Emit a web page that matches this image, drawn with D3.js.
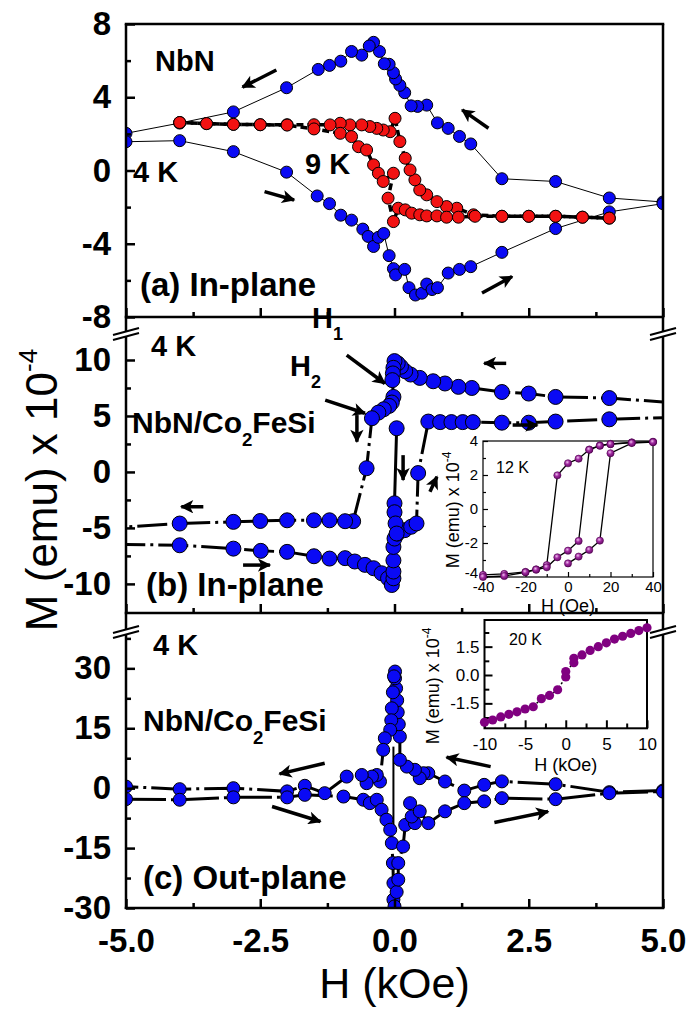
<!DOCTYPE html>
<html>
<head>
<meta charset="utf-8">
<script src="https://cdn.jsdelivr.net/npm/d3@7"></script>
<style>
body{margin:0;background:#fff;}
svg{display:block;font-family:"Liberation Sans",Arial,Helvetica,sans-serif;}
</style>
</head>
<body>
<svg id="chart" width="692" height="1010"></svg>
<script>
// ---- data : [H (kOe), M (emu x 1e-4)] ----
// (a) NbN, in-plane
var a4Down = [[5.0,-1.72],[4.0,-1.5],[3.0,-0.6],[2.0,-0.45],[1.42,1.45],[1.21,1.86],[1.0,2.3],[0.8,2.6],[0.6,3.57],[0.43,3.5],[0.31,3.53],[0.19,4.25],[0.1,4.65],[0.02,5.0],[-0.02,5.34],[-0.1,5.8],[-0.19,5.83],[-0.28,6.5],[-0.39,7.0],[-0.47,6.8],[-0.61,6.3],[-0.8,6.5],[-1.0,5.97],[-1.21,5.74],[-1.42,5.52],[-2.01,4.52],[-3.0,3.2],[-4.0,2.59],[-5.0,2.03]];
var a4Up = [[-5.0,1.57],[-4.0,1.63],[-3.0,1.03],[-2.01,-0.09],[-1.44,-1.39],[-1.21,-1.81],[-1.0,-2.44],[-0.8,-2.71],[-0.59,-3.2],[-0.49,-3.6],[-0.39,-4.15],[-0.3,-3.65],[-0.2,-3.44],[-0.1,-4.65],[-0.02,-5.36],[0.02,-5.7],[0.19,-5.4],[0.27,-6.4],[0.39,-6.8],[0.51,-6.7],[0.6,-6.2],[0.7,-6.5],[0.8,-6.4],[1.0,-5.6],[1.21,-5.4],[1.42,-5.25],[2.0,-4.47],[3.0,-3.17],[4.0,-2.26],[5.0,-1.81]];
var a9Down = [[4.0,-2.6],[3.5,-2.55],[3.0,-2.5],[2.5,-2.5],[2.0,-2.5],[1.47,-2.42],[1.16,-2.06],[0.97,-1.97],[0.79,-1.7],[0.6,-1.33],[0.47,-1.06],[0.38,-0.51],[0.29,0.03],[0.2,0.67],[0.1,1.58],[0.01,2.85],[-0.08,2.12],[-0.21,2.21],[-0.33,2.3],[-0.46,2.4],[-0.61,2.49],[-0.83,2.49],[-1.01,2.58],[-1.2,2.49],[-1.5,2.5],[-2.0,2.5],[-2.5,2.5],[-3.0,2.52],[-3.5,2.56],[-4.0,2.62]];
var a9Up = [[-4.0,2.62],[-3.5,2.56],[-3.0,2.52],[-2.5,2.5],[-2.0,2.48],[-1.5,2.27],[-1.01,2.03],[-0.8,1.85],[-0.67,1.3],[-0.52,1.12],[-0.39,0.31],[-0.3,-0.15],[-0.21,-0.6],[-0.02,-0.15],[-0.12,-1.51],[-0.02,-2.79],[0.07,-2.06],[0.2,-2.15],[0.32,-2.33],[0.47,-2.42],[0.6,-2.48],[0.79,-2.48],[0.97,-2.55],[1.19,-2.55],[1.5,-2.5],[2.0,-2.5],[2.5,-2.5],[3.0,-2.5],[3.5,-2.55],[4.0,-2.6]];

// (b) NbN/Co2FeSi, in-plane, 4 K
var bDown = [[6.0,5.9],[4.0,6.6],[3.0,6.7],[2.5,7.0],[2.0,7.14],[1.44,7.5],[1.19,7.6],[0.94,7.9],[0.72,8.1],[0.47,8.4],[0.3,8.7],[0.2,9.0],[0.12,9.4],[0.06,9.7],[0.0,9.9],[-0.02,9.3],[-0.03,8.8],[-0.04,8.2],[-0.02,6.7],[-0.05,6.2],[-0.1,5.9],[-0.2,5.6],[-0.3,5.3],[-0.42,4.8],[-0.52,0.33],[-0.77,-4.4],[-0.92,-4.4],[-1.21,-4.32],[-1.5,-4.32],[-2.0,-4.32],[-2.5,-4.38],[-3.0,-4.46],[-4.0,-4.61],[-6.0,-5.2]];
var bUp = [[-6.0,-6.4],[-4.0,-6.55],[-3.0,-6.85],[-2.49,-7.05],[-2.0,-7.14],[-1.5,-7.53],[-1.21,-7.74],[-0.92,-7.7],[-0.74,-8.0],[-0.55,-8.3],[-0.39,-8.6],[-0.24,-9.05],[-0.12,-9.5],[-0.05,-10.1],[-0.02,-9.5],[-0.02,-8.9],[-0.02,-7.9],[-0.02,-6.7],[0.0,-5.95],[0.06,-5.5],[0.19,-5.2],[0.31,-4.9],[0.41,-4.6],[0.44,-0.1],[0.63,4.5],[0.85,4.45],[1.06,4.45],[1.27,4.45],[1.46,4.45],[2.0,4.4],[2.5,4.4],[3.0,4.5],[4.0,4.7],[6.0,5.0]];
var bJump = [[0.04,3.9],[0.0,-2.8],[0.0,-3.6],[0.02,-4.6],[0.04,-5.5]];

// (c) NbN/Co2FeSi, out-of-plane, 4 K
var cDown = [[5.0,-0.6],[4.0,-1.0],[3.0,1.0],[2.0,1.7],[1.67,0.83],[1.3,-0.6],[0.94,1.67],[0.63,3.75],[0.54,3.75],[0.47,2.5],[0.38,4.6],[0.23,5.4],[0.1,7.1],[0.1,12.9],[0.08,16],[0.06,19],[0.05,22],[0.03,25],[0.01,27.5],[0.01,29.2],[-0.01,28],[-0.03,24],[-0.05,20],[-0.06,17],[-0.08,14.6],[-0.18,12.5],[-0.21,9.6],[-0.27,1.67],[-0.33,3.3],[-0.42,2.9],[-0.52,1.25],[-0.61,3.3],[-0.89,2.9],[-1.3,-1.25],[-1.67,0.6],[-2.0,-0.8],[-3.0,0.0],[-4.0,-0.25],[-5.0,0.4]];
var cUp = [[-5.0,-2.75],[-4.0,-2.9],[-3.0,-2.3],[-2.0,-2.3],[-1.67,-1.67],[-0.95,-2.1],[-0.58,-2.9],[-0.46,-3.75],[-0.33,-2.9],[-0.24,-5.4],[-0.15,-7.9],[-0.08,-10.4],[-0.05,-13.75],[-0.03,-18.75],[-0.02,-23.75],[-0.02,-27.9],[0.0,-29.6],[0.04,-26],[0.07,-22.9],[0.07,-18.75],[0.16,-14.6],[0.2,-9.2],[0.38,-8.75],[0.32,-7.1],[0.29,-3.75],[0.47,-5.8],[0.63,-8.75],[0.94,-5.8],[1.3,-3.75],[1.67,-3.3],[2.0,-2.5],[3.0,-2.75],[4.0,-1.25],[5.0,-0.85]];
var cJump = [[-0.02,10.4],[-0.02,-11.2]];

// inset (b): 12 K, H in Oe
var ib12Down = [[40,3.95],[30,3.92],[20,3.83],[15,3.74],[10,3.5],[5,2.96],[0,2.69],[-5,1.98],[-10,-3.3],[-15,-3.55],[-20,-3.7],[-30,-3.82],[-40,-3.88]];
var ib12Up = [[-40,-4.0],[-30,-3.94],[-20,-3.72],[-15,-3.57],[-10,-3.43],[-5,-2.84],[0,-2.45],[5,-1.88],[10,3.48],[15,3.72],[20,3.81],[30,3.9],[40,3.95]];
var ib12Virgin = [[0,-3.2],[5,-2.8],[10,-2.41],[15,-1.86],[20,3.28],[30,3.88],[40,3.93]];
// inset (c): 20 K, H in kOe
var ic20 = [[-10,-2.5],[-9,-2.38],[-8,-2.22],[-7,-2.08],[-6,-1.95],[-5,-1.8],[-4,-1.68],[-3,-1.25],[-2,-1.08],[-1,-0.78],[0,-0.1],[0,0.18],[1,0.65],[1,0.88],[2,1.06],[3,1.3],[4,1.5],[5,1.7],[6,1.9],[7,2.05],[8,2.2],[9,2.35],[10,2.5]];

// arrows [H0, M0, H1, M1]
var arrowsA = [[-2.2,5.49,-2.83,4.55],[1.75,2.31,1.26,3.31],[-2.42,-1.15,-1.87,-1.61],[1.63,-6.69,2.19,-5.79]];
var arrowsB = [[-0.89,10.44,-0.18,7.9],[-1.29,6.42,-0.55,5.24],[-0.70,5.08,-0.70,2.7],[0.16,1.5,0.16,-0.72],[0.66,-1.77,0.79,-0.43],[2.08,9.7,1.67,9.7],[2.2,4.19,2.66,4.19],[-3.56,-3.11,-3.97,-3.11],[-2.82,-8.32,-2.32,-8.32]];
var arrowsC = [[-1.3,6.25,-2.14,3.58],[1.79,5.4,0.97,7.75],[-2.28,-4.6,-1.38,-8.35],[1.86,-8.6,2.86,-5.85]];

var xTicks = [-5,-2.5,0,2.5,5], xMinor = [-3.75,-1.25,1.25,3.75];

var BLUE = "#0a0af5", RED = "#f21212";

// ---- layout ----
var svg = d3.select("#chart");
var defs = svg.append("defs");
var X0 = 126, X1 = 663;
var x = d3.scaleLinear().domain([-5,5]).range([X0,X1]);

defs.append("marker").attr("id","ah").attr("viewBox","0 0 10 10")
	.attr("refX",9).attr("refY",5).attr("markerWidth",4.6).attr("markerHeight",3.8)
	.attr("orient","auto")
  .append("path").attr("d","M0,0L10,5L0,10L2.5,5Z").attr("fill","#000");

var grad = defs.append("radialGradient").attr("id","ball").attr("cx","40%").attr("cy","35%").attr("r","65%");
grad.append("stop").attr("offset","0%").attr("stop-color","#f0c0f0");
grad.append("stop").attr("offset","45%").attr("stop-color","#a02aa0");
grad.append("stop").attr("offset","100%").attr("stop-color","#6a0a6a");

var panels = [
	{id:"a", y:d3.scaleLinear().domain([-8,8]).range([317,24]), major:[-8,-4,0,4,8], minor:[-6,-2,2,6]},
	{id:"b", y:d3.scaleLinear().domain([-12.6,12.5]).range([613,332]), major:[-10,-5,0,5,10], minor:[-7.5,-2.5,2.5,7.5]},
	{id:"c", y:d3.scaleLinear().domain([-30,39.6]).range([908,630]), major:[-30,-15,0,15,30], minor:[-22.5,-7.5,7.5,22.5,37.5]}
];

panels.forEach(function(p){
	var r = p.y.range();
	defs.append("clipPath").attr("id","clip-"+p.id)
		.append("rect").attr("x",X0).attr("y",r[1]).attr("width",X1-X0).attr("height",r[0]-r[1]);
	p.g = svg.append("g").attr("class","panel-"+p.id);
	p.plot = p.g.append("g").attr("clip-path","url(#clip-"+p.id+")");
	p.line = d3.line().x(function(d){return x(d[0]);}).y(function(d){return p.y(d[1]);});
});

function drawSeries(p, data, o){
	if (o.stroke) p.plot.append("path").datum(data)
		.attr("d", p.line).attr("fill","none")
		.attr("stroke", o.stroke).attr("stroke-width", o.sw)
		.attr("stroke-dasharray", o.dash || null);
	if (o.r) p.plot.append("g").selectAll("circle").data(data).enter().append("circle")
		.attr("cx", function(d){return x(d[0]);})
		.attr("cy", function(d){return p.y(d[1]);})
		.attr("r", o.r).attr("fill", o.fill)
		.attr("stroke","#000").attr("stroke-width",1);
}

// (a)
var pa = panels[0], pb = panels[1], pc = panels[2];
drawSeries(pa, a4Down, {stroke:"#000", sw:1});
drawSeries(pa, a4Up, {stroke:"#000", sw:1});
drawSeries(pa, a4Down, {r:6, fill:BLUE});
drawSeries(pa, a4Up, {r:6, fill:BLUE});
drawSeries(pa, a9Down, {stroke:"#000", sw:3.5, dash:"7,4"});
drawSeries(pa, a9Up, {stroke:"#000", sw:3.5, dash:"7,4"});
drawSeries(pa, a9Down, {r:6, fill:RED});
drawSeries(pa, a9Up, {r:6, fill:RED});
// (b)
var dashDot = "30,5,3,5";
drawSeries(pb, bDown, {stroke:"#000", sw:3, dash:dashDot});
drawSeries(pb, bUp, {stroke:"#000", sw:3, dash:dashDot});
drawSeries(pb, bJump, {stroke:"#000", sw:3});
drawSeries(pb, bDown, {r:7.5, fill:BLUE});
drawSeries(pb, bUp, {r:7.5, fill:BLUE});
drawSeries(pb, bJump, {r:7.5, fill:BLUE});
// (c)
drawSeries(pc, cJump, {stroke:"#000", sw:2});
drawSeries(pc, cDown, {stroke:"#000", sw:3, dash:"40,5,3,5"});
drawSeries(pc, cUp, {stroke:"#000", sw:3, dash:"40,5,3,5"});
drawSeries(pc, cDown, {r:6.5, fill:BLUE});
drawSeries(pc, cUp, {r:6.5, fill:BLUE});

// axes
panels.forEach(function(p){
	var r = p.y.range();
	var ax = p.g.append("g").attr("transform","translate("+X0+",0)")
		.call(d3.axisLeft(p.y).tickValues(p.major).tickSize(-9).tickSizeOuter(0).tickPadding(15)
			.tickFormat(function(d){return String(d);}));
	ax.append("g").call(d3.axisLeft(p.y).tickValues(p.minor).tickSize(-5).tickSizeOuter(0).tickFormat(""));
	var bx = p.g.append("g").attr("transform","translate(0,"+r[0]+")")
		.call(d3.axisBottom(x).tickValues(xTicks).tickSize(-9).tickSizeOuter(0).tickPadding(21)
			.tickFormat(function(d){return p.id === "c" ? d.toFixed(1) : "";}));
	bx.append("g").call(d3.axisBottom(x).tickValues(xMinor).tickSize(-5).tickSizeOuter(0).tickFormat(""));
	[ax, bx].forEach(function(g){
		g.selectAll(".domain").remove();
		g.selectAll("line").attr("stroke","#000").attr("stroke-width",2.5);
		g.selectAll("text").attr("font-size",33).attr("font-weight","bold")
			.attr("font-family","'Liberation Sans',Arial,sans-serif").attr("fill","#000");
	});
	p.g.append("line").attr("x1",X0-1.25).attr("x2",X1+1.25).attr("y1",r[0]).attr("y2",r[0])
		.attr("stroke","#000").attr("stroke-width",2.5);
});
svg.append("line").attr("x1",X0-1.25).attr("x2",X1+1.25).attr("y1",24).attr("y2",24).attr("stroke","#000").attr("stroke-width",2.5);
[X0, X1].forEach(function(xx){
	svg.append("line").attr("x1",xx).attr("x2",xx).attr("y1",24).attr("y2",909).attr("stroke","#000").attr("stroke-width",2.5);
});
// axis breaks
[332, 630].forEach(function(yb){
	[X0, X1].forEach(function(xx){
		var b = svg.append("g");
		b.append("polygon").attr("points",[[xx-13,yb+3],[xx+13,yb-4],[xx+13,yb+1],[xx-13,yb+8]].join(" ")).attr("fill","#fff");
		b.append("line").attr("x1",xx-13).attr("y1",yb+3).attr("x2",xx+13).attr("y2",yb-4).attr("stroke","#000").attr("stroke-width",2);
		b.append("line").attr("x1",xx-13).attr("y1",yb+8).attr("x2",xx+13).attr("y2",yb+1).attr("stroke","#000").attr("stroke-width",2);
	});
});

// arrows
function drawArrows(p, list){
	p.g.append("g").selectAll("line").data(list).enter().append("line")
		.attr("x1",function(d){return x(d[0]);}).attr("y1",function(d){return p.y(d[1]);})
		.attr("x2",function(d){return x(d[2]);}).attr("y2",function(d){return p.y(d[3]);})
		.attr("stroke","#000").attr("stroke-width",3.5).attr("marker-end","url(#ah)");
}
drawArrows(pa, arrowsA); drawArrows(pb, arrowsB); drawArrows(pc, arrowsC);

// labels
function label(px, py, txt, size, sub){
	var t = svg.append("text").attr("x",px).attr("y",py)
		.attr("font-size",size).attr("font-weight","bold").attr("fill","#000");
	if (!sub) { t.text(txt); return t; }
	t.append("tspan").text(txt[0]);
	t.append("tspan").attr("font-size",size*0.62).attr("dy",size*0.42).text(sub);
	if (txt[1]) t.append("tspan").attr("dy",-size*0.42).text(txt[1]);
	return t;
}
label(155, 71, "NbN", 29);
label(133, 182, "4 K", 29);
label(305, 174, "9 K", 29);
label(140, 296, "(a) In-plane", 33);
label(151, 356, "4 K", 29);
label(312, 328, ["H"], 29, "1");
label(290, 376, ["H"], 29, "2");
label(132, 433, ["NbN/Co","FeSi"], 30, "2");
label(146, 596, "(b) In-plane", 33);
label(153, 655, "4 K", 29);
label(143, 731, ["NbN/Co","FeSi"], 30, "2");
label(143, 889, "(c) Out-plane", 33);

// axis titles
svg.append("text").attr("x",(X0+X1)/2).attr("y",998).attr("text-anchor","middle")
	.attr("font-size",43).text("H (kOe)");
var yt = svg.append("text").attr("transform","translate(57,490) rotate(-90)").attr("text-anchor","middle").attr("font-size",44);
yt.append("tspan").text("M (emu) x 10");
yt.append("tspan").attr("font-size",26).attr("dy",-20).text("-4");

// insets
function drawInset(c){
	var g = svg.append("g");
	var ix = d3.scaleLinear().domain(c.xd).range([c.x0,c.x1]);
	var iy = d3.scaleLinear().domain(c.yd).range([c.y1,c.y0]);
	g.append("rect").attr("x",c.x0).attr("y",c.y0).attr("width",c.x1-c.x0).attr("height",c.y1-c.y0)
		.attr("fill","#fff").attr("stroke","#000").attr("stroke-width",c.fw);
	var ax = g.append("g").attr("transform","translate("+c.x0+",0)")
		.call(d3.axisLeft(iy).tickValues(c.yMaj).tickSize(-c.tl).tickSizeOuter(0).tickPadding(c.ypad).tickFormat(c.yf));
	ax.append("g").call(d3.axisLeft(iy).tickValues(c.yMin).tickSize(-c.tl*0.6).tickSizeOuter(0).tickFormat(""));
	var bx = g.append("g").attr("transform","translate(0,"+c.y1+")")
		.call(d3.axisBottom(ix).tickValues(c.xMaj).tickSize(-c.tl).tickSizeOuter(0).tickPadding(c.xpad).tickFormat(c.xf));
	bx.append("g").call(d3.axisBottom(ix).tickValues(c.xMin).tickSize(-c.tl*0.6).tickSizeOuter(0).tickFormat(""));
	[ax,bx].forEach(function(a){
		a.selectAll(".domain").remove();
		a.selectAll("line").attr("stroke","#000").attr("stroke-width",c.fw);
		a.selectAll("text").attr("font-size",c.fs).attr("font-family","'Liberation Sans',Arial,sans-serif").attr("fill","#000");
	});
	// lift the lowest y label clear of the x labels
	if (c.liftLow) ax.selectAll(".tick text").filter(function(d){return d === c.yMaj[0];}).attr("dy","0.05em");
	var ln = d3.line().x(function(d){return ix(d[0]);}).y(function(d){return iy(d[1]);});
	c.series.forEach(function(s){
		g.append("path").datum(s).attr("d",ln).attr("fill","none").attr("stroke","#000")
			.attr("stroke-width",c.lw).attr("stroke-dasharray",c.dash || null);
	});
	c.series.forEach(function(s){
		g.append("g").selectAll("circle").data(s).enter().append("circle")
			.attr("cx",function(d){return ix(d[0]);}).attr("cy",function(d){return iy(d[1]);})
			.attr("r",c.r).attr("fill",c.fill).attr("stroke",c.mstroke || "none").attr("stroke-width",0.6);
	});
	g.append("text").attr("x",(c.x0+c.x1)/2).attr("y",c.xty).attr("text-anchor","middle").attr("font-size",18).text(c.xt);
	var t = g.append("text").attr("transform","translate("+c.ytx+","+c.yty+") rotate(-90)").attr("text-anchor","middle").attr("font-size",18);
	t.append("tspan").text("M (emu) x 10");
	t.append("tspan").attr("font-size",12).attr("dy",-8).text("-4");
	g.append("text").attr("x",c.lx).attr("y",c.ly).attr("font-size",16).text(c.label);
}
drawInset({x0:483,x1:653,y0:441,y1:577,xd:[-40,40],yd:[-4,4],
	xMaj:[-40,-20,0,20,40],xMin:[-30,-10,10,30],yMaj:[-4,-2,0,2,4],yMin:[-3,-1,1,3],
	xf:function(d){return String(d);},yf:function(d){return String(d);},liftLow:true,
	tl:5,fw:1.2,xpad:4,ypad:5,fs:15,lw:1.3,r:3.6,fill:"url(#ball)",mstroke:"#4a004a",
	series:[ib12Down,ib12Up,ib12Virgin],xt:"H (Oe)",xty:612,ytx:459,yty:510,label:"12 K",lx:496,ly:473});
drawInset({x0:484.5,x1:647,y0:620,y1:728.3,xd:[-10,10],yd:[-2.82,2.91],
	xMaj:[-10,-5,0,5,10],xMin:[-7.5,-2.5,2.5,7.5],yMaj:[-1.5,0,1.5],yMin:[-2.25,-0.75,0.75,2.25],
	xf:function(d){return String(d);},yf:function(d){return d.toFixed(1);},
	tl:8,fw:2,xpad:10,ypad:5,fs:17,lw:1.5,dash:"2,2",r:4.6,fill:"#800080",
	series:[ic20],xt:"H (kOe)",xty:771,ytx:439,yty:686,label:"20 K",lx:509,ly:645});
</script>
</body>
</html>
